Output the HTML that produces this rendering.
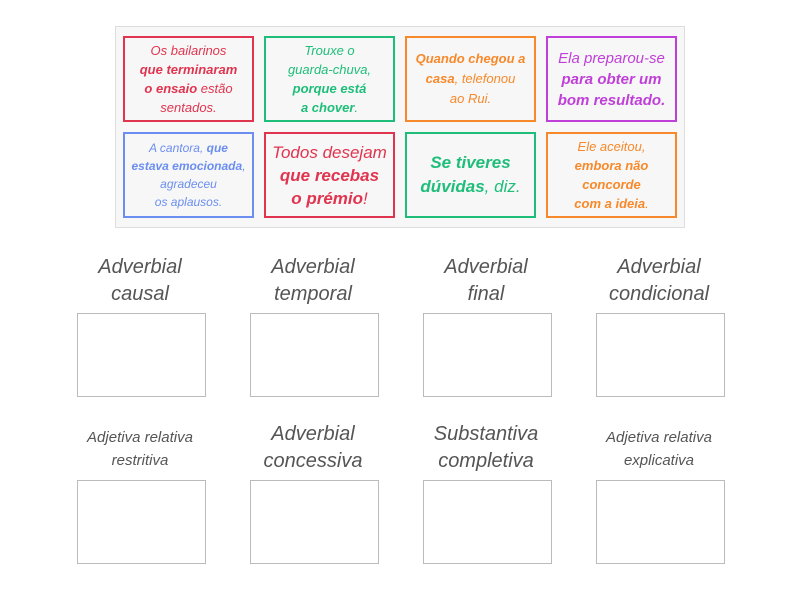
<!DOCTYPE html><html><head><style>
body{margin:0;width:800px;height:600px;background:#fff;font-family:"Liberation Sans",sans-serif;position:relative;overflow:hidden}
.panel{position:absolute;left:115px;top:26px;width:568px;height:200px;background:#f7f7f7;border:1px solid #ddd}
.c{position:absolute;border:2px solid;box-sizing:border-box;display:flex;align-items:center;justify-content:center;text-align:center;font-style:italic;font-size:13px;line-height:19px}
.c b{font-weight:bold}
.r{color:#e0344f;border-color:#e0344f}.g{color:#1ebe7a;border-color:#1ebe7a}.o{color:#f7892a;border-color:#f7892a}.p{color:#c03fd8;border-color:#c03fd8}.bl{color:#6b8ef0;border-color:#6b8ef0}
.l{position:absolute;width:170px;text-align:center;color:#555;font-style:italic;font-size:20px;line-height:27px}
.s{font-size:15px;line-height:23px}
.b{position:absolute;width:127px;height:82px;border:1px solid #bbb;background:#fff}
</style></head><body>
<div class="panel"></div>
<div class="c r" style="left:123px;top:36px;width:131px;height:86px"><span>Os bailarinos<br><b>que terminaram</b><br><b>o ensaio</b> estão<br>sentados.</span></div>
<div class="c g" style="left:264px;top:36px;width:131px;height:86px"><span>Trouxe o<br>guarda-chuva,<br><b>porque está<br>a chover</b>.</span></div>
<div class="c o" style="left:405px;top:36px;width:131px;height:86px;font-size:13px;line-height:20px"><span><b>Quando chegou a<br>casa</b>, telefonou<br>ao Rui.</span></div>
<div class="c p" style="left:546px;top:36px;width:131px;height:86px;font-size:15px;line-height:21px"><span>Ela preparou-se<br><b>para obter um<br>bom resultado.</b></span></div>
<div class="c bl" style="left:123px;top:132px;width:131px;height:86px;font-size:12px;line-height:18px"><span>A cantora, <b>que<br>estava emocionada</b>,<br>agradeceu<br>os aplausos.</span></div>
<div class="c r" style="left:264px;top:132px;width:131px;height:86px;font-size:17px;line-height:23px"><span>Todos desejam<br><b>que recebas<br>o prémio</b>!</span></div>
<div class="c g" style="left:405px;top:132px;width:131px;height:86px;font-size:17px;line-height:24px"><span><b>Se tiveres<br>dúvidas</b>, diz.</span></div>
<div class="c o" style="left:546px;top:132px;width:131px;height:86px"><span>Ele aceitou,<br><b>embora não<br>concorde<br>com a ideia</b>.</span></div>
<div class="l" style="left:55px;top:254px">Adverbial<br>causal</div>
<div class="l" style="left:228px;top:254px">Adverbial<br>temporal</div>
<div class="l" style="left:401px;top:254px">Adverbial<br>final</div>
<div class="l" style="left:574px;top:254px">Adverbial<br>condicional</div>
<div class="l s" style="left:55px;top:426px">Adjetiva relativa<br>restritiva</div>
<div class="l" style="left:228px;top:421px">Adverbial<br>concessiva</div>
<div class="l" style="left:401px;top:421px">Substantiva<br>completiva</div>
<div class="l s" style="left:574px;top:426px">Adjetiva relativa<br>explicativa</div>
<div class="b" style="left:77px;top:313px"></div><div class="b" style="left:250px;top:313px"></div><div class="b" style="left:423px;top:313px"></div><div class="b" style="left:596px;top:313px"></div>
<div class="b" style="left:77px;top:480px"></div><div class="b" style="left:250px;top:480px"></div><div class="b" style="left:423px;top:480px"></div><div class="b" style="left:596px;top:480px"></div>
</body></html>
